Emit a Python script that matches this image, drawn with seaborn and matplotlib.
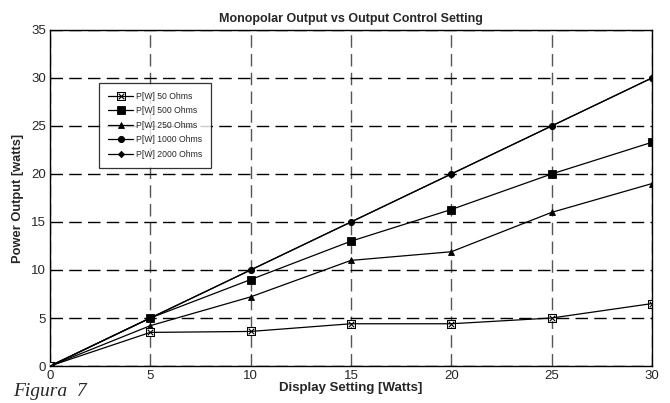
import pandas as pd
import matplotlib
matplotlib.use("Agg")
import matplotlib.pyplot as plt
import seaborn as sns

# display setting [W]
setting = [0, 5, 10, 15, 20, 25, 30]

p_50 = [0, 3.5, 3.6, 4.4, 4.4, 5.0, 6.5]
p_500 = [0, 5.0, 9.0, 13.0, 16.3, 20.0, 23.3]
p_250 = [0, 4.2, 7.2, 11.0, 11.9, 16.0, 19.0]
p_1000 = [0, 5.0, 10.0, 15.0, 20.0, 25.0, 30.0]
p_2000 = [0, 5.0, 10.0, 15.0, 20.0, 25.0, 30.0]

names = ["P[W] 50 Ohms", "P[W] 500 Ohms", "P[W] 250 Ohms",
         "P[W] 1000 Ohms", "P[W] 2000 Ohms"]
series = [p_50, p_500, p_250, p_1000, p_2000]

rows = []
for n, vals in zip(names, series):
    for x, y in zip(setting, vals):
        rows.append({"setting": x, "power": y, "load": n})
df = pd.DataFrame(rows)

sns.set_style("white")
plt.rcParams["font.family"] = ["Liberation Sans", "DejaVu Sans"]

fig = plt.figure(figsize=(6.7, 4.03), dpi=100)
ax = fig.add_axes([0.0746, 0.0918, 0.8984, 0.8338])

markers = {names[0]: r"$\boxtimes$", names[1]: "s", names[2]: "^",
           names[3]: "o", names[4]: "D"}
sizes = {names[0]: 6.5, names[1]: 5.5, names[2]: 4, names[3]: 4.5, names[4]: 3.2}

# white squares behind the 50 Ohm markers so the line doesn't show through
sns.scatterplot(data=df[df["load"] == names[0]], x="setting", y="power",
                ax=ax, marker="s", s=22, color="white", edgecolor="none",
                legend=False, zorder=4)

for n in names:
    sns.lineplot(data=df[df["load"] == n], x="setting", y="power",
                 ax=ax, color="black", lw=0.9, marker=markers[n],
                 markersize=sizes[n], markerfacecolor="black",
                 markeredgecolor="black",
                 markeredgewidth=0.6 if n != names[0] else 0.0,
                 label=n, zorder=3 if n != names[0] else 5)

ax.set_xlim(0, 30)
ax.set_ylim(0, 35)
ax.set_xticks(range(0, 31, 5))
ax.set_yticks(range(0, 36, 5))
ax.grid(True, axis="y", color="black", linestyle=(0, (9, 4.5)), linewidth=1.0)
ax.grid(True, axis="x", color="#555555", linestyle=(0, (9, 4.5)), linewidth=1.0)
for s in ax.spines.values():
    s.set_color("black")
    s.set_linewidth(1.0)
ax.tick_params(length=0, labelsize=9.5, pad=3)

ax.set_title("Monopolar Output vs Output Control Setting",
             fontsize=9, fontweight="bold", pad=6)
ax.set_xlabel("Display Setting [Watts]", fontsize=9.5, fontweight="bold", labelpad=0)
ax.set_ylabel("Power Output [watts]", fontsize=9.3, fontweight="bold", labelpad=5)

leg = ax.legend(loc="upper left", bbox_to_anchor=(0.0814, 0.842), fontsize=6.2,
                frameon=True, fancybox=False, borderpad=1.0, labelspacing=0.65,
                handlelength=3.0, handletextpad=0.35, borderaxespad=0)
leg.get_frame().set_edgecolor("black")
leg.get_frame().set_linewidth(0.9)

fig.text(0.02, 0.05, "Figura  7", fontsize=14, fontstyle="italic",
         family="Liberation Serif", va="top", ha="left")

fig.savefig("out.png", dpi=100)
